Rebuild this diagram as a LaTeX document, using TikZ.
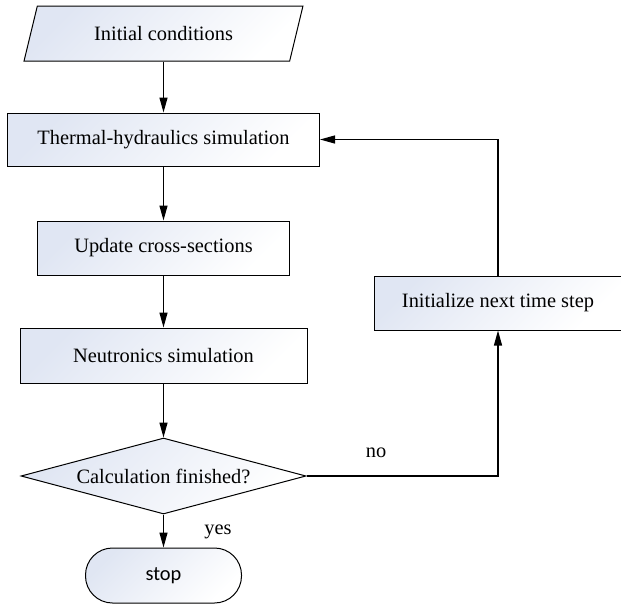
\documentclass[tikz,border=0pt]{standalone}
\usepackage{fontspec}
\setmainfont{Liberation Serif}
\newfontfamily\stopfont{Carlito}
\usetikzlibrary{shapes.geometric,arrows.meta}
\definecolor{boxblue}{RGB}{224,230,243}
\begin{document}
\begin{tikzpicture}[x=1pt,y=-1pt,font=\fontsize{20.4}{24}\selectfont,
  box/.style={draw,line width=1pt,top color=boxblue,bottom color=white,shading angle=45,inner sep=0pt},
  arr/.style={line width=1.2pt,-{Triangle[length=15pt,width=8pt]}}]
\useasboundingbox (0,0) rectangle (621,605);
\node[box,trapezium,trapezium left angle=63,trapezium right angle=117,trapezium stretches=true,minimum width=279,minimum height=55] (init) at (163.5,33.5) {Initial conditions};
\node[box,minimum width=312,minimum height=53] (thermal) at (163.5,139.5) {Thermal-hydraulics simulation};
\node[box,minimum width=252,minimum height=54] (update) at (163.5,248) {Update cross-sections};
\node[box,minimum width=287,minimum height=55] (neutron) at (163.5,355.5) {Neutronics simulation};
\node[box,diamond,aspect=3.75,minimum width=285,minimum height=76] (check) at (163.5,476) {Calculation finished?};
\node[box,rounded corners=27pt,minimum width=156,minimum height=55,font=\stopfont\fontsize{20.4}{24}\selectfont] (stop) at (163.5,575.5) {stop};
\node[box,minimum width=248,minimum height=54] (next) at (498,303) {Initialize next time step};
\node (yes) at (218,532) {yes};
\node (no) at (376,453) {no};
\draw[arr] (init) -- (thermal);
\draw[arr] (thermal) -- (update);
\draw[arr] (update) -- (neutron);
\draw[arr] (neutron) -- (check);
\draw[arr] (check) -- (stop);
\draw[arr] (check.east) -| (next.south);
\draw[arr] (next.north) |- (thermal.east);
\end{tikzpicture}
\end{document}
